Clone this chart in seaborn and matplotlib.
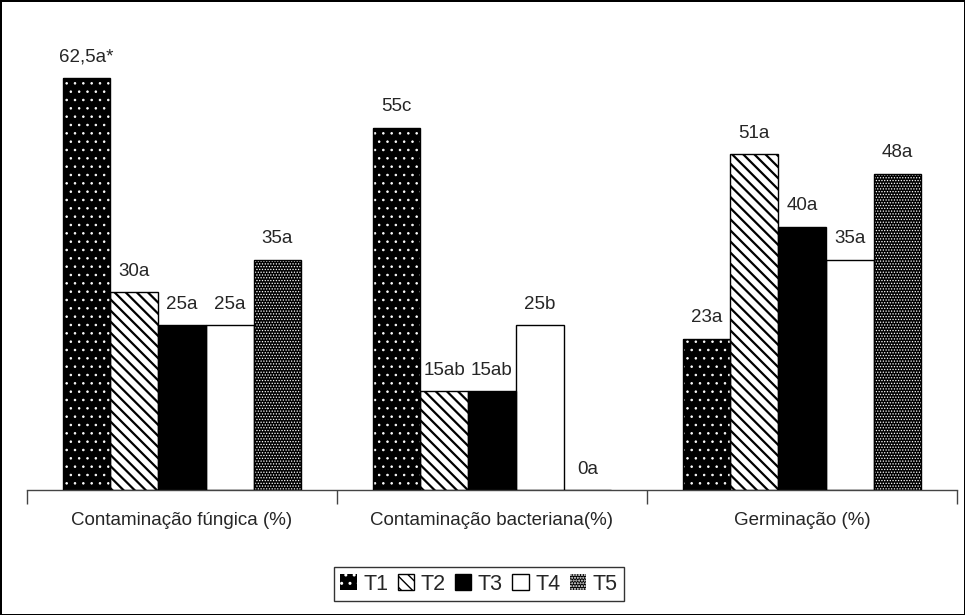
import matplotlib
matplotlib.use("Agg")
import matplotlib.pyplot as plt
import pandas as pd
import seaborn as sns

# data
categories = ["Contaminação fúngica (%)", "Contaminação bacteriana(%)", "Germinação (%)"]
treatments = ["T1", "T2", "T3", "T4", "T5"]
t1 = [62.5, 55, 23]
t2 = [30, 15, 51]
t3 = [25, 15, 40]
t4 = [25, 25, 35]
t5 = [35, 0, 48]
labels_t1 = ["62,5a*", "55c", "23a"]
labels_t2 = ["30a", "15ab", "51a"]
labels_t3 = ["25a", "15ab", "40a"]
labels_t4 = ["25a", "25b", "35a"]
labels_t5 = ["35a", "0a", "48a"]

values = [t1, t2, t3, t4, t5]
bar_labels = [labels_t1, labels_t2, labels_t3, labels_t4, labels_t5]

rows = []
for t, vals in zip(treatments, values):
    for c, v in zip(categories, vals):
        rows.append({"cat": c, "trat": t, "val": v})
df = pd.DataFrame(rows)

sns.set_theme(style="white")
plt.rcParams["font.family"] = ["Liberation Sans", "DejaVu Sans"]

# (face, hatch colour, hatch pattern, hatch linewidth)
styles = {
    "T1": ("black", "white", "..", 0.6),
    "T2": ("white", "black", "\\\\\\", 1.6),
    "T3": ("black", "black", "", 1.0),
    "T4": ("white", "black", "", 1.0),
    "T5": ("black", "white", "......", 0.6),
}


def make_patch_style(p, face, hcol, hatch, hlw):
    p.set_facecolor(face)
    p.set_edgecolor(hcol)
    p.set_hatch(hatch)
    if hasattr(p, "set_hatch_linewidth"):
        p.set_hatch_linewidth(hlw)
    else:
        p._hatch_linewidth = hlw


fig = plt.figure(figsize=(9.65, 6.15), dpi=100, edgecolor="black", linewidth=2)
ax = fig.add_axes([27 / 965, 125 / 615, 930 / 965, 461 / 615])

sns.barplot(data=df, x="cat", y="val", hue="trat", order=categories,
            hue_order=treatments, width=0.77, dodge=True, ax=ax,
            legend=False, saturation=1)

handles = []
for t, cont, labs in zip(treatments, ax.containers, bar_labels):
    face, hcol, hatch, hlw = styles[t]
    for bar in cont:
        make_patch_style(bar, face, hcol, hatch, hlw)
        bar.set_linewidth(0)
        # black outline drawn on top (hatch colour comes from edgecolor)
        ax.add_patch(plt.Rectangle(bar.get_xy(), bar.get_width(), bar.get_height(),
                                   fill=False, edgecolor="black", linewidth=1, zorder=3))
    ax.bar_label(cont, labels=labs, padding=9, fontsize=13.5)
    h = plt.Rectangle((0, 0), 1, 1)
    make_patch_style(h, face, hcol, hatch, hlw)
    h.set_linewidth(0 if hcol == "white" else 1)
    handles.append(h)

ax.set_ylim(0, 70)
ax.set_xlim(-0.5, 2.5)
ax.set_xlabel("")
ax.set_ylabel("")
ax.set_yticks([])
for s in ["top", "left", "right"]:
    ax.spines[s].set_visible(False)
ax.spines["bottom"].set_color("#444444")
ax.spines["bottom"].set_linewidth(1)

ax.set_xticks([0, 1, 2])
ax.set_xticklabels(categories, fontsize=13.5)
ax.tick_params(axis="x", which="major", length=0, pad=16)
ax.set_xticks([-0.5, 0.5, 1.5, 2.5], minor=True)
ax.tick_params(axis="x", which="minor", length=10, width=1, color="#444444",
               direction="out", bottom=True)

leg = fig.legend(handles, treatments, loc="center", bbox_to_anchor=(479 / 965, 1 - 584 / 615),
                 ncol=5, fontsize=15.5, frameon=True, fancybox=False, edgecolor="black",
                 handlelength=0.75, handleheight=0.75, handletextpad=0.3, columnspacing=0.45,
                 borderpad=0.3, borderaxespad=0)
leg.get_frame().set_linewidth(1)

fig.savefig("out.png", dpi=100, edgecolor=fig.get_edgecolor())
